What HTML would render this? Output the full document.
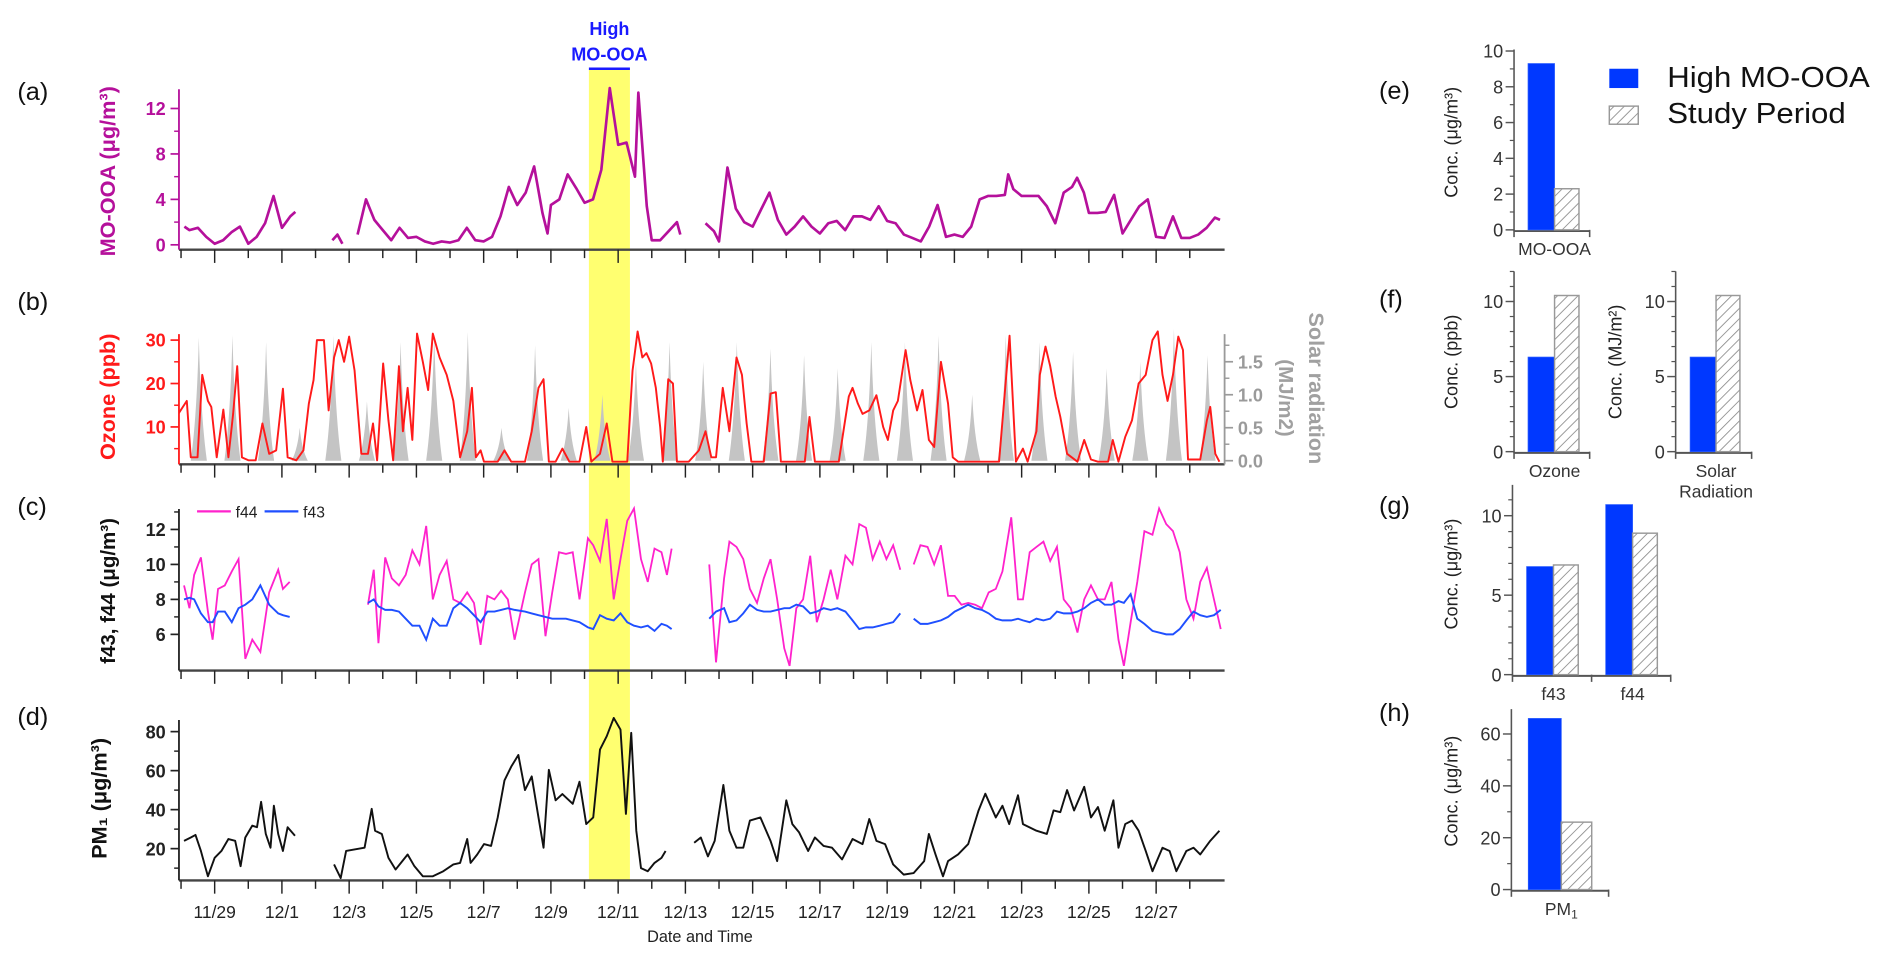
<!DOCTYPE html>
<html><head><meta charset="utf-8"><title>MO-OOA time series</title>
<style>
html,body{margin:0;padding:0;background:#fff;}
svg{display:block;}
text{font-family:"Liberation Sans","DejaVu Sans",sans-serif;}
</style></head>
<body>
<svg id="chart" xmlns="http://www.w3.org/2000/svg" width="1892" height="960" viewBox="0 0 1568 796">
<defs>
<clipPath id="plotclip"><rect x="148" y="40" width="866" height="720"/></clipPath>
<pattern id="hatch" patternUnits="userSpaceOnUse" width="6" height="6" patternTransform="rotate(45)">
<rect width="6" height="6" fill="#fff"/><line x1="0" y1="0" x2="0" y2="6" stroke="#8a8a8a" stroke-width="1.4"/>
</pattern>
</defs>
</svg>
<script>
// ===== time axis data =====
const dateLabels = ["11/29","12/1","12/3","12/5","12/7","12/9","12/11","12/13","12/15","12/17","12/19","12/21","12/23","12/25","12/27"];
const bandStart = 11.13, bandEnd = 12.35;

// ===== (a) MO-OOA =====
const mooaT = [-0.9,-0.75,-0.5,-0.25,0,0.25,0.5,0.75,1.0,1.25,
1.5,1.75,2.0,2.25,2.4,2.9,3.5,3.65,3.8,4.0,
4.25,4.5,4.75,5,5.25,5.5,5.75,6,6.25,6.5,
6.75,7,7.25,7.5,7.75,8,8.25,8.5,8.75,9,
9.25,9.5,9.75,9.9,10,10.25,10.5,10.75,11,11.25,
11.5,11.75,12,12.25,12.5,12.6,12.85,13,13.25,13.5,
13.75,13.85,14.2,14.6,14.85,15,15.25,15.5,15.75,16,
16.25,16.5,16.75,17,17.25,17.5,17.75,18,18.25,18.5,
18.75,19,19.25,19.5,19.75,20,20.25,20.5,20.75,21,
21.25,21.5,21.75,22,22.25,22.5,22.75,23,23.25,23.5,
23.6,23.75,24,24.25,24.5,24.75,25,25.25,25.5,25.65,
25.85,26,26.25,26.5,26.75,27,27.25,27.5,27.75,28,
28.25,28.5,28.75,29,29.25,29.5,29.75,29.9];
const mooaV = [1.6,1.3,1.5,0.7,0.1,0.4,1.1,1.6,0.1,0.7,
1.9,4.3,1.5,2.5,2.9,null,0.4,0.9,0.1,null,
0.9,4,2.2,1.3,0.4,1.5,0.6,0.7,0.3,0.1,
0.3,0.2,0.4,1.5,0.4,0.3,0.7,2.5,5.1,3.5,
4.6,6.9,2.8,1.0,3.5,4,6.2,5,3.7,4,
6.6,13.8,8.8,9,6,13.4,3.4,0.4,0.4,1.2,
2,0.9,null,1.9,1.2,0.3,6.8,3.2,2,1.6,
3.1,4.6,2.2,0.9,1.6,2.5,1.6,1.0,1.9,2.1,
1.3,2.5,2.5,2.2,3.4,2.1,1.9,0.9,0.6,0.3,
1.6,3.5,0.7,0.9,0.7,1.6,4,4.3,4.3,4.4,
6.2,4.9,4.3,4.3,4.3,3.4,1.9,4.6,5.1,5.9,
4.6,2.8,2.8,2.9,4.4,1,2.2,3.4,4,0.7,
0.6,2.5,0.6,0.6,0.9,1.5,2.4,2.2];

// ===== (b) Ozone + solar =====
const ozoneT = [-1.08,-0.83,-0.71,-0.51,-0.37,-0.20,-0.10,0.06,0.26,0.41,
0.55,0.67,0.81,1.01,1.22,1.42,1.62,1.83,2.03,2.17,
2.43,2.64,2.80,2.94,3.04,3.25,3.39,3.55,3.69,3.85,
4.00,4.16,4.36,4.56,4.71,4.83,5.01,5.17,5.31,5.48,
5.60,5.74,5.88,6.02,6.19,6.35,6.49,6.69,6.90,7.10,
7.30,7.51,7.65,7.77,7.91,8.01,8.42,8.62,8.82,9.23,
9.43,9.63,9.78,9.94,10.14,10.34,10.55,10.85,11.05,11.20,
11.46,11.66,11.83,12.27,12.43,12.58,12.72,12.84,12.98,13.12,
13.25,13.33,13.49,13.63,13.75,14.10,14.40,14.60,14.77,14.91,
15.11,15.31,15.52,15.68,15.82,15.96,16.33,16.53,16.69,16.84,
17.55,17.69,17.85,18.56,18.72,18.86,18.97,19.13,19.27,19.47,
19.68,19.88,20.02,20.18,20.32,20.55,20.69,20.89,21.05,21.24,
21.40,21.60,21.81,21.95,22.11,23.33,23.64,23.83,24.04,24.18,
24.44,24.54,24.71,24.85,25.01,25.15,25.35,25.66,25.86,26.06,
26.27,26.57,26.71,26.88,27.08,27.28,27.48,27.69,27.89,28.05,
28.19,28.34,28.50,28.66,28.80,28.95,29.31,29.51,29.61,29.76,
29.88];
const ozoneV = [13,16,3,3,22,16,14.6,3,14,3,
13,24,3,2.3,2.3,10.8,3.8,4.6,18.8,3,
2.3,4.6,15.4,20.8,30,30,13.8,26,30,25,
30.8,23,3.8,3.8,10.8,2.3,24.6,11.5,2.3,24,
9,19,7,31.5,25,18.5,31.5,26,22,16,
3,9,19,3,4.6,2,2,4.6,2,2,
9,19,21,2,2,5,2,2,10,2,
3.8,10.8,2,2,23,32,26,27,24.6,19,
10,2,21,20,2,2,4.6,9,3,3,
19,9,26,22,10.8,2,2,17.7,18,2,
2,12.3,2,2,10,17,19,15.4,13,13.8,
17.3,10,7,13.8,16,27.7,20.8,13.8,18.5,7,
5.4,25,15.4,3,2,2,31,2,5,2,
9,22,28.5,24,17,12.3,3.8,2,7,2.5,
2,2,7,2,7.7,11.5,20,22,30,32,
22,16,22,30.8,27.7,2.5,2.5,11.5,14.6,3.8,
2];
const solarFirstDay = -1;
const solarPeakHour = 12.7;
const solarPeaks = [1.87,1.9,1.8,0.5,1.9,0.9,1.8,1.9,1.95,0.5,1.75,0.8,1.0,1.5,1.8,1.5,1.8,1.7,1.6,1.4,1.8,1.8,1.9,1.0,1.9,1.8,1.65,1.4,1.5,2.0,1.6];

// ===== (c) f43 / f44 =====
const fT = [-0.91,-0.75,-0.61,-0.41,-0.20,-0.06,0.10,0.30,0.51,0.71,0.91,1.12,1.36,1.62,1.89,2.03,2.23,2.5,
4.56,4.73,4.87,5.07,5.27,5.48,5.68,5.88,6.09,6.29,6.49,6.69,6.90,7.10,7.30,7.51,7.71,7.91,8.11,8.32,8.52,8.72,8.92,
9.23,9.43,9.63,9.84,10.04,10.24,10.45,10.65,10.85,
11.10,11.26,11.46,11.66,11.87,12.07,12.27,12.47,12.68,12.88,13.08,13.29,13.45,13.59,14.2,
14.71,14.91,15.15,15.31,15.52,15.72,15.92,16.13,16.33,16.53,16.73,16.94,17.10,17.30,17.50,17.71,17.91,18.11,18.32,18.52,18.76,18.97,19.17,19.37,19.57,19.78,19.98,20.18,20.39,20.6,
20.79,20.99,21.20,21.40,21.60,21.81,22.01,22.21,22.41,22.62,22.82,23.02,23.23,23.43,23.69,23.89,24.04,24.24,24.44,24.65,24.85,25.05,25.25,25.46,25.66,25.86,26.06,26.27,26.47,26.67,26.88,27.04,27.24,27.44,27.65,27.89,28.09,28.30,28.50,28.70,28.90,29.11,29.31,29.51,29.72,29.92];
const f44V = [8.8,7.5,9.4,10.4,7.3,5.7,8.6,8.8,9.6,10.3,4.6,5.7,5,8.4,9.7,8.6,9,null,
7.7,9.7,5.5,10.4,9.2,8.8,9.4,10.8,10,12.2,8,9.4,10.2,8,7.8,8.4,7.8,5.4,8.2,8,8.5,8,5.7,
8.4,10,10.3,5.9,8.4,10.7,10.6,10.7,8,
11.5,11.1,10.2,12.6,8,10.3,12.5,13.2,10.3,9,10.9,10.7,9.4,10.9,null,
10,4.4,9.2,11.3,11,10.3,8.6,7.8,9.2,10.3,8,5.2,4.2,7.5,8,10.5,6.7,8,9.7,8,10.5,10,12.3,12.1,10.3,11.3,10.3,11.1,9.7,null,
10,11.1,11,10,11.1,8.2,8.2,7.7,7.8,7.7,7.5,8.4,8.6,9.6,12.7,8,8,10.7,11,11.3,10.2,11,8,7.5,6.1,8,8.8,8,8,9,5.7,4.2,6.7,9,11.9,11.7,13.2,12.3,11.9,10.7,8,6.9,9,9.8,8,6.3];
const f43V = [8,8.1,8.0,7.2,6.7,6.7,7.3,7.3,6.7,7.5,7.7,8,8.8,7.7,7.2,7.1,7,null,
7.8,8,7.6,7.4,7.4,7.3,6.9,6.5,6.5,5.7,6.9,6.5,6.5,7.5,7.8,7.5,7.1,6.7,7.3,7.3,7.4,7.5,7.4,
7.3,7.2,7.1,7,6.9,6.9,6.9,6.8,6.7,
6.4,6.3,7.1,6.9,6.8,7.2,6.7,6.5,6.4,6.5,6.2,6.6,6.5,6.3,null,
6.9,7.3,7.5,6.7,6.8,7.2,7.7,7.4,7.3,7.3,7.4,7.5,7.5,7.7,7.6,7.2,7.3,7.5,7.4,7.5,7.3,6.8,6.3,6.4,6.4,6.5,6.6,6.7,7.2,null,
6.9,6.6,6.6,6.7,6.8,7.0,7.3,7.5,7.7,7.5,7.4,7.2,6.9,6.8,6.8,6.9,6.8,6.7,6.9,6.8,6.9,7.3,7.2,7.2,7.3,7.5,7.8,8,7.7,7.7,7.9,7.8,8.3,6.9,6.6,6.2,6.1,6,6,6.3,6.8,7.3,7.1,7,7.1,7.4];

// ===== (d) PM1 =====
const pmT = [-0.91,-0.71,-0.57,-0.41,-0.30,-0.20,0,0.20,0.41,0.61,
0.77,0.91,1.12,1.26,1.38,1.52,1.66,1.76,1.89,2.03,
2.17,2.39,3.0,3.55,3.75,3.91,4.16,4.46,4.67,4.77,
4.97,5.17,5.38,5.58,5.74,5.94,6.19,6.49,6.80,7.10,
7.30,7.51,7.61,7.81,8.01,8.22,8.42,8.62,8.82,9.03,
9.23,9.43,9.63,9.78,9.94,10.14,10.34,10.65,10.85,11.05,
11.26,11.46,11.66,11.87,12.07,12.23,12.39,12.54,12.68,12.88,
13.08,13.29,13.41,14.0,14.26,14.46,14.67,14.87,15.13,15.31,
15.52,15.72,15.92,16.23,16.53,16.73,17.00,17.18,17.38,17.65,
17.85,18.11,18.36,18.66,18.97,19.27,19.47,19.68,19.94,20.18,
20.49,20.79,21.10,21.24,21.44,21.66,21.81,22.11,22.41,22.72,
22.92,23.23,23.43,23.63,23.89,24.04,24.44,24.75,24.95,25.15,
25.35,25.56,25.86,26.06,26.27,26.47,26.73,26.88,27.08,27.28,
27.48,27.69,27.89,28.19,28.40,28.60,28.90,29.11,29.31,29.61,
29.88];
const pmV = [24,25.7,27,18.8,12,5.8,15.3,18.8,24.9,24,
11,25.7,31.8,31,44,27.5,20.5,42,27.5,18.8,
31,26.6,null,11.9,4.9,18.8,19.6,20.5,40.4,29.2,
27.5,15.3,9.3,13.6,17,11,5.8,5.8,8.4,11.9,
12.7,24.9,12.7,17,22.3,21.4,36,55,62,68,
50,57,36,20.5,60.4,44.8,48,43,54.3,32.6,
36,70.8,77.7,87,81,37.8,79.4,29.2,10,8.4,
12.7,15.3,18.8,null,23,25.7,16,24,52.6,29.2,
20.5,20.5,34.4,36,24,13.6,44.8,32.6,28.3,18.8,
25.7,21.4,20.5,14.5,24.9,22.3,35.2,24,22.3,11.9,
6.7,7.5,13.6,27.5,17,5.8,13.6,17,22.3,39.6,
48.2,36,42,32.6,47.4,32.6,29.2,27.5,39.6,38.7,
50,39.6,51.7,36,41.3,29.2,44.8,20.5,32.6,34.4,
29.2,18.8,8.4,20.5,18.8,8.4,18.8,20.5,17,24,
29.2];

// ===== bar panels (e)-(h) =====
const barE_cats = ["MO-OOA"];   const barE_high = [9.3];  const barE_study = [2.3];
const barF1_cats = ["Ozone"];   const barF1_high = [6.3]; const barF1_study = [10.4];
const barF2_cats = ["Solar|Radiation"]; const barF2_high = [6.3]; const barF2_study = [10.4];
const barG_cats = ["f43","f44"]; const barG_high = [6.8,10.7]; const barG_study = [6.9,8.9];
const barH_cats = ["PM1"];      const barH_high = [66];   const barH_study = [26];

// ===== drawing =====
const svg = document.getElementById('chart');
const NS = 'http://www.w3.org/2000/svg';
function mk(tag, attrs, parent){ const e=document.createElementNS(NS,tag); for(const k in attrs) e.setAttribute(k,attrs[k]); (parent||svg).appendChild(e); return e; }
function txt(x,y,s,attrs,parent){ const e=mk('text',Object.assign({x:x,y:y},attrs),parent); e.textContent=s; return e; }

const X0=177.6, DX=27.88, PL=148, PR=1013;
const xT = t => X0 + DX*t;
const yA = v => 203 - v*9.42;
const yB = v => 390 - v*3.6;
const yS = v => 382 - v*54.7;
const yC = v => 497 - (v-8)*14.5;
const yD = v => 736 - v*1.617;

// yellow band
const band = mk('rect',{x:xT(bandStart),y:57,width:xT(bandEnd)-xT(bandStart),height:673,fill:'#ffff70'});


const bl = mk('line',{x1:xT(bandStart),x2:xT(bandEnd),y1:57,y2:57,stroke:'#1a1aff','stroke-width':2});


const bt1 = txt((xT(bandStart)+xT(bandEnd))/2,29,'High',{'text-anchor':'middle','font-size':15,'font-weight':'bold',fill:'#1a1aff'});


const bt2 = txt((xT(bandStart)+xT(bandEnd))/2,50,'MO-OOA',{'text-anchor':'middle','font-size':15,'font-weight':'bold',fill:'#1a1aff'});



// solar radiation areas
const solarG = mk('g',{'clip-path':'url(#plotclip)'});


solarPeaks.forEach((v,i)=>{
  const tc = solarFirstDay + i + solarPeakHour/24;
  const xl=xT(tc-0.24), xr=xT(tc+0.24), xc=xT(tc), y0=yS(0), yp=yS(v);
  const p = mk('path',{d:`M${xl},${y0} Q${xT(tc-0.06)},${y0-(y0-yp)*0.35} ${xc},${yp} Q${xT(tc+0.06)},${y0-(y0-yp)*0.35} ${xr},${y0} Z`,fill:'#c4c4c4'},solarG);
  
  
});

function linePath(ts, vs, ys){
  let d='', pen=false; const n=Math.min(ts.length,vs.length);
  for(let i=0;i<n;i++){ const v=vs[i]; if(v===null||v===undefined){pen=false;continue;}
    d += (pen?'L':'M') + xT(ts[i]).toFixed(1)+','+ys(v).toFixed(1)+' '; pen=true; }
  return d;
}
const lA = mk('path',{d:linePath(mooaT,mooaV,yA),fill:'none',stroke:'#b5109b','stroke-width':2.2,'clip-path':'url(#plotclip)','stroke-linejoin':'round'});


const lB = mk('path',{d:linePath(ozoneT,ozoneV,yB),fill:'none',stroke:'#ff1a1a','stroke-width':1.6,'clip-path':'url(#plotclip)','stroke-linejoin':'round'});


const lC44 = mk('path',{d:linePath(fT,f44V,yC),fill:'none',stroke:'#ff22cc','stroke-width':1.5,'clip-path':'url(#plotclip)'});


const lC43 = mk('path',{d:linePath(fT,f43V,yC),fill:'none',stroke:'#1f4fff','stroke-width':1.6,'clip-path':'url(#plotclip)'});


const lD = mk('path',{d:linePath(pmT,pmV,yD),fill:'none',stroke:'#111','stroke-width':1.6,'clip-path':'url(#plotclip)','stroke-linejoin':'round'});



// axes
function xAxis(y, name, labels){
  const g=mk('g',{});
  
  
  mk('line',{x1:PL,x2:PR+2,y1:y,y2:y,stroke:'#444','stroke-width':2},g);
  for(let t=-1;t<=29;t++){ const major=(t%2===0);
    mk('line',{x1:xT(t),x2:xT(t),y1:y,y2:y+(major?11:7),stroke:'#222','stroke-width':1.2},g);
    if(labels && major && t>=0 && t/2<dateLabels.length){
      const lb=txt(xT(t),y+31,dateLabels[t/2],{'text-anchor':'middle','font-size':14.5,fill:'#222'},g);
      
      
    }
  }
}
function yAxis(x, top, bottom, ys, majors, minors, color, name, side, fmt){
  const g=mk('g',{});
  
  
  mk('line',{x1:x,x2:x,y1:top,y2:bottom,stroke:color,'stroke-width':1.5},g);
  const dir = side==='right'?1:-1;
  minors.forEach(v=>mk('line',{x1:x,x2:x+dir*4,y1:ys(v),y2:ys(v),stroke:color,'stroke-width':1.2},g));
  majors.forEach(v=>{ mk('line',{x1:x,x2:x+dir*7,y1:ys(v),y2:ys(v),stroke:color,'stroke-width':1.4},g);
    const lb=txt(x+dir*11,ys(v)+5.5,fmt?fmt(v):String(v),{'text-anchor':side==='right'?'start':'end','font-size':15,'font-weight':'bold',fill:color},g);
    
    
  });
}
xAxis(207,'x-axis-a',false); xAxis(385,'x-axis-b',false); xAxis(556,'x-axis-c',false); xAxis(730,'x-axis-d',true);
yAxis(PL,74,207,yA,[0,4,8,12],[2,6,10],'#b5109b','y-axis-a','left');
yAxis(PL,277,385,yB,[10,20,30],[5,15,25],'#ff1a1a','y-axis-b','left');
yAxis(1015,277,385,yS,[0,0.5,1.0,1.5],[0.25,0.75,1.25,1.75],'#9a9a9a','y-axis-solar','right',v=>v.toFixed(1));
yAxis(PL,422,556,yC,[6,8,10,12],[7,9,11,13],'#222','y-axis-c','left');
yAxis(PL,597,730,yD,[20,40,60,80],[10,30,50,70],'#222','y-axis-d','left');

function rotLabel(x,y,s,color,size,angle,name,weight){
  const e=txt(x,y,s,{'text-anchor':'middle','font-size':size,'font-weight':weight||'bold',fill:color,transform:`rotate(${angle} ${x} ${y})`});
  
  
  return e;
}
rotLabel(95,142,'MO-OOA (μg/m³)','#b5109b',18,-90,'y-axis-title-a');
rotLabel(95,329,'Ozone (ppb)','#ff1a1a',18,-90,'y-axis-title-b');
rotLabel(95,490,'f43, f44 (μg/m³)','#111',17,-90,'y-axis-title-c');
rotLabel(88,662,'PM\u2081 (μg/m³)','#111',18,-90,'y-axis-title-d');
rotLabel(1085,322,'Solar radiation','#a0a0a0',18,90,'y-axis-title-solar');
rotLabel(1060,330,'(MJ/m2)','#a0a0a0',17,90,'y-axis-title-solar-unit');
const xtitle=txt(580,781,'Date and Time',{'text-anchor':'middle','font-size':13.5,fill:'#222'});



// panel letters
[['(a)',83],['(b)',257],['(c)',427],['(d)',601]].forEach(p=>{
  const e=txt(14,p[1],p[0],{'font-size':21,fill:'#111'});
  
  
});
[['(e)',82],['(f)',255],['(g)',426],['(h)',598]].forEach(p=>{
  const e=txt(1143,p[1],p[0],{'font-size':21,fill:'#111'});
  
  
});

// legend (c)
const lg=mk('g',{});


mk('line',{x1:163,x2:191,y1:424,y2:424,stroke:'#ff22cc','stroke-width':1.8},lg);
const lt1=txt(195,429,'f44',{'font-size':13,fill:'#222'},lg);


mk('line',{x1:219,x2:247,y1:424,y2:424,stroke:'#1f4fff','stroke-width':1.8},lg);
const lt2=txt(251,429,'f43',{'font-size':13,fill:'#222'},lg);



// ===== bar panels =====
function barPanel(cfg){
  const g=mk('g',{});
  
  
  const ys = v => cfg.y0 - v*cfg.unit;
  mk('line',{x1:cfg.ax,x2:cfg.ax,y1:cfg.top,y2:cfg.y0+1,stroke:'#555','stroke-width':1.3},g);
  mk('line',{x1:cfg.ax,x2:cfg.xend,y1:cfg.y0+1,y2:cfg.y0+1,stroke:'#555','stroke-width':1.6},g);
  cfg.minors.forEach(v=>mk('line',{x1:cfg.ax,x2:cfg.ax-3.5,y1:ys(v),y2:ys(v),stroke:'#555','stroke-width':1},g));
  cfg.majors.forEach(v=>{ mk('line',{x1:cfg.ax,x2:cfg.ax-7,y1:ys(v),y2:ys(v),stroke:'#555','stroke-width':1.2},g);
    const lb=txt(cfg.ax-9,ys(v)+5.5,String(v),{'text-anchor':'end','font-size':15,fill:'#333','font-family':'DejaVu Sans, sans-serif'},g);
    
    
  });
  mk('line',{x1:cfg.ax,x2:cfg.ax,y1:cfg.y0,y2:cfg.y0+6,stroke:'#555','stroke-width':1.3},g);
  cfg.cats.forEach((c,i)=>{
    const gx = cfg.ax + cfg.pad + i*cfg.step;
    const bw = cfg.bw;
    const hb = mk('rect',{x:gx,y:ys(cfg.high[i]),width:bw,height:cfg.high[i]*cfg.unit,fill:'#0038ff',stroke:'#2a5cff','stroke-width':0.6},g);
    
    
    const sb = mk('rect',{x:gx+bw,y:ys(cfg.study[i]),width:bw*0.92,height:cfg.study[i]*cfg.unit,fill:'url(#hatch)',stroke:'#999','stroke-width':1.2},g);
    
    
    const tickx = cfg.ax + (i+1)*cfg.step + (i===cfg.cats.length-1 ? 0 : 0);
    mk('line',{x1:Math.min(tickx,cfg.xend),x2:Math.min(tickx,cfg.xend),y1:cfg.y0,y2:cfg.y0+6,stroke:'#555','stroke-width':1.3},g);
    const parts=c.split('|');
    parts.forEach((s,k)=>{
      const lb=txt(gx+bw,cfg.y0+21+k*17,s==='PM1'?'PM':s,{'text-anchor':'middle','font-size':14.5,fill:'#333','font-family':'DejaVu Sans, sans-serif'},g);
      if(s==='PM1'){ const sub=mk('tspan',{'font-size':10,dy:3},lb); sub.textContent='1'; }
      
      
    });
  });
  const yl=txt(cfg.ylx,cfg.yly,cfg.ylabel,{'text-anchor':'middle','font-size':15,fill:'#222','font-family':'"Liberation Sans Narrow","Liberation Sans",sans-serif',transform:`rotate(-90 ${cfg.ylx} ${cfg.yly})`},g);
  
  
}
barPanel({name:'bar-panel-e',ax:1255,y0:190.6,unit:14.83,top:41,xend:1318,majors:[0,2,4,6,8,10],minors:[1,3,5,7,9],cats:barE_cats,high:barE_high,study:barE_study,pad:11.6,bw:22,step:62.7,ylabel:'Conc. (μg/m³)',ylx:1208,yly:118});
barPanel({name:'bar-panel-f-ozone',ax:1255,y0:374.5,unit:12.45,top:225,xend:1318,majors:[0,5,10],minors:[1,2,3,4,6,7,8,9,11,12],cats:barF1_cats,high:barF1_high,study:barF1_study,pad:11.6,bw:22,step:62.7,ylabel:'Conc. (ppb)',ylx:1208,yly:300});
barPanel({name:'bar-panel-f-solar',ax:1389,y0:374.5,unit:12.45,top:225,xend:1452,majors:[0,5,10],minors:[1,2,3,4,6,7,8,9,11,12],cats:barF2_cats,high:barF2_high,study:barF2_study,pad:12,bw:21.5,step:63,ylabel:'Conc. (MJ/m²)',ylx:1344,yly:300});
barPanel({name:'bar-panel-g',ax:1253.7,y0:559.4,unit:13.18,top:402,xend:1385,majors:[0,5,10],minors:[1,2,3,4,6,7,8,9,11],cats:barG_cats,high:barG_high,study:barG_study,pad:11.7,bw:22.3,step:65.6,ylabel:'Conc. (μg/m³)',ylx:1208,yly:476});
barPanel({name:'bar-panel-h',ax:1252.8,y0:737.6,unit:2.15,top:588,xend:1333.4,majors:[0,20,40,60],minors:[10,30,50],cats:barH_cats,high:barH_high,study:barH_study,pad:14,bw:27.4,step:80.6,ylabel:'Conc. (μg/m³)',ylx:1208,yly:656});

// bar legend
const bl2=mk('g',{});


const lr1=mk('rect',{x:1334,y:57,width:24,height:16,fill:'#0038ff'},bl2);


const lr2=mk('rect',{x:1334,y:88,width:24,height:15,fill:'url(#hatch)',stroke:'#999','stroke-width':1.2},bl2);


const lx1=txt(1382,72,'High MO-OOA',{'font-size':24,fill:'#111','font-family':'DejaVu Sans, sans-serif',textLength:168,lengthAdjust:'spacingAndGlyphs'},bl2);


const lx2=txt(1382,102,'Study Period',{'font-size':24,fill:'#111','font-family':'DejaVu Sans, sans-serif',textLength:148,lengthAdjust:'spacingAndGlyphs'},bl2);


</script>
</body></html>
